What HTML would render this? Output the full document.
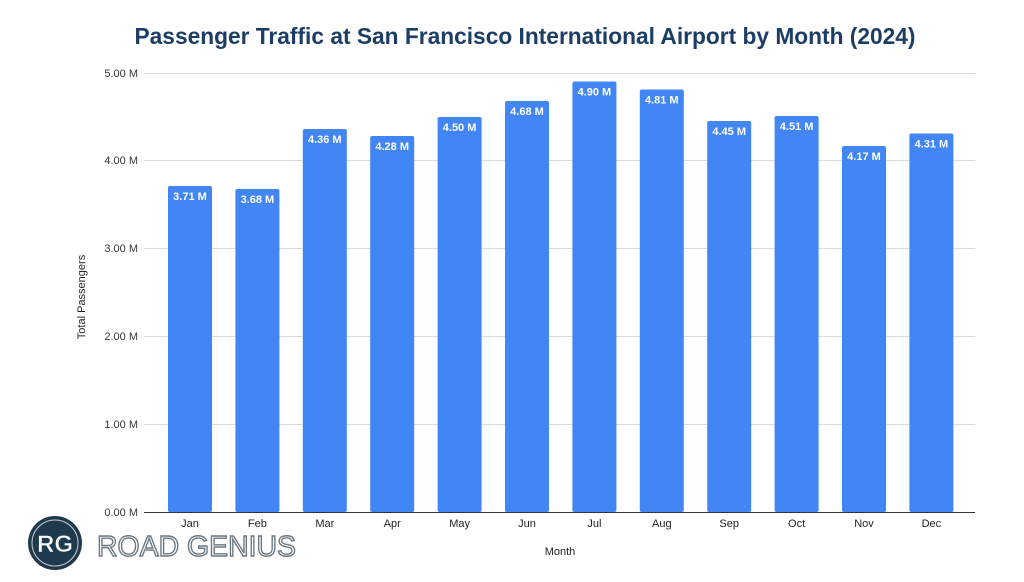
<!DOCTYPE html>
<html><head><meta charset="utf-8"><style>
html,body{margin:0;padding:0;background:#fff}
svg{display:block;font-family:"Liberation Sans",Arial,sans-serif}
</style></head><body>
<svg width="1024" height="582" viewBox="0 0 1024 582">
<text x="525" y="44" text-anchor="middle" font-size="22.7" font-weight="bold" fill="#1c3e66" textLength="781" lengthAdjust="spacingAndGlyphs">Passenger Traffic at San Francisco International Airport by Month (2024)</text>
<g stroke="#d9d9d9" stroke-width="1">
<line x1="144" x2="975" y1="73.5" y2="73.5"/>
<line x1="144" x2="975" y1="160.5" y2="160.5"/>
<line x1="144" x2="975" y1="248.5" y2="248.5"/>
<line x1="144" x2="975" y1="336.5" y2="336.5"/>
<line x1="144" x2="975" y1="424.5" y2="424.5"/>
</g>
<g font-size="11" fill="#333" text-anchor="end">
<text x="138" y="77">5.00 M</text>
<text x="138" y="164">4.00 M</text>
<text x="138" y="252">3.00 M</text>
<text x="138" y="340">2.00 M</text>
<text x="138" y="428">1.00 M</text>
<text x="138" y="516">0.00 M</text>
</g>
<text transform="translate(85,297) rotate(-90)" text-anchor="middle" font-size="11" fill="#222">Total Passengers</text>
<g fill="#4285f4">
<rect x="168" y="186" width="44" height="326" rx="2"/>
<rect x="235.4" y="189" width="44" height="323" rx="2"/>
<rect x="302.8" y="129" width="44" height="383" rx="2"/>
<rect x="370.2" y="136" width="44" height="376" rx="2"/>
<rect x="437.6" y="117" width="44" height="395" rx="2"/>
<rect x="505" y="101" width="44" height="411" rx="2"/>
<rect x="572.4" y="81.5" width="44" height="430.5" rx="2"/>
<rect x="639.8" y="89.5" width="44" height="422.5" rx="2"/>
<rect x="707.2" y="121" width="44" height="391" rx="2"/>
<rect x="774.6" y="116" width="44" height="396" rx="2"/>
<rect x="842" y="146" width="44" height="366" rx="2"/>
<rect x="909.4" y="133.5" width="44" height="378.5" rx="2"/>
</g>
<line x1="144" x2="975" y1="512.5" y2="512.5" stroke="#333" stroke-width="1"/>
<g font-size="11" font-weight="bold" fill="#fff" text-anchor="middle">
<text x="190" y="200">3.71 M</text>
<text x="257.4" y="203">3.68 M</text>
<text x="324.8" y="143">4.36 M</text>
<text x="392.2" y="150">4.28 M</text>
<text x="459.6" y="131">4.50 M</text>
<text x="527" y="115">4.68 M</text>
<text x="594.4" y="95.5">4.90 M</text>
<text x="661.8" y="103.5">4.81 M</text>
<text x="729.2" y="135">4.45 M</text>
<text x="796.6" y="130">4.51 M</text>
<text x="864" y="160">4.17 M</text>
<text x="931.4" y="147.5">4.31 M</text>
</g>
<g font-size="11" fill="#222" text-anchor="middle">
<text x="190" y="527">Jan</text><text x="257.4" y="527">Feb</text><text x="324.8" y="527">Mar</text>
<text x="392.2" y="527">Apr</text><text x="459.6" y="527">May</text><text x="527" y="527">Jun</text>
<text x="594.4" y="527">Jul</text><text x="661.8" y="527">Aug</text><text x="729.2" y="527">Sep</text>
<text x="796.6" y="527">Oct</text><text x="864" y="527">Nov</text><text x="931.4" y="527">Dec</text>
</g>
<text x="560" y="555" text-anchor="middle" font-size="11" fill="#222">Month</text>
<circle cx="55" cy="543" r="27" fill="#1f3a4d"/>
<circle cx="55" cy="543" r="23" fill="none" stroke="#c8d2d8" stroke-width="1"/>
<text x="55" y="552" text-anchor="middle" font-size="24" font-weight="bold" fill="#fff" stroke="#1f3a4d" stroke-width="0.6">RG</text>
<text x="97" y="556" font-size="29" fill="#fff" stroke="#6a7882" stroke-width="1.4" textLength="199" lengthAdjust="spacingAndGlyphs">ROAD GENIUS</text>
</svg>
</body></html>
